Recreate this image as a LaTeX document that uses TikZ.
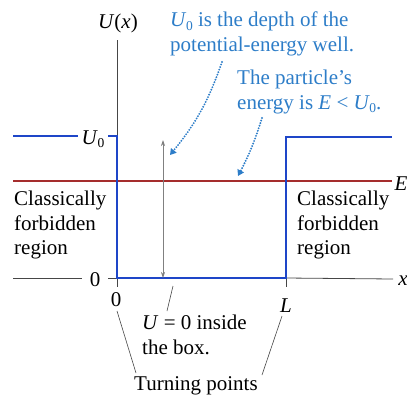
\documentclass[tikz,border=0pt]{standalone}
\usepackage{fontspec}
\setmainfont{Liberation Serif}
\usetikzlibrary{arrows.meta}
\definecolor{wellblue}{RGB}{30,70,200}
\definecolor{txtblue}{RGB}{45,125,200}
\definecolor{ered}{RGB}{165,45,45}
\definecolor{axgray}{RGB}{70,70,70}
\newcommand\Uzero{\textit{U}\kern-0.5pt\raisebox{-0.35ex}{\fontsize{13.5}{13.5}\selectfont 0}}
\begin{document}
\begin{tikzpicture}[x=1pt,y=-1pt,
  lbl/.style={font=\fontsize{21}{24.5}\selectfont, inner sep=0pt},
  blk/.style={lbl, align=left, anchor=north west},
  ann/.style={lbl, text=txtblue, align=left, anchor=north west},
  well/.style={wellblue, line width=1.6pt},
  axis/.style={axgray, line width=0.8pt},
  dotarrow/.style={txtblue, line width=2.1pt, line cap=round, dash pattern=on 0pt off 2.7pt, -{Triangle[length=6pt,width=7pt]}},
  pointer/.style={axgray, line width=0.6pt}]
\useasboundingbox (0,0) rectangle (407,397);
% coordinates
\coordinate (ul) at (13,136);
\coordinate (ulend) at (78,136);
\coordinate (uts) at (108,136);
\coordinate (tl) at (117,136);
\coordinate (bl) at (117,278);
\coordinate (br) at (286,278);
\coordinate (tr) at (286,137);
\coordinate (ur) at (392,137);
\coordinate (ytop) at (117,40);
\coordinate (ybot) at (117,287);
\coordinate (lt) at (286,287);
\coordinate (xl) at (13,278);
\coordinate (xlend) at (82,278);
\coordinate (xts) at (108,278);
\coordinate (xr) at (393,279);
\coordinate (el) at (13,181);
\coordinate (er) at (392,181);
\coordinate (at) at (163,140);
\coordinate (ab) at (163,278);
% labels
\node[lbl] (Ux) at (118,23) {\textit{U}(\textit{x})};
\node[lbl] (U0) at (93,139) {\Uzero};
\node[lbl] (z0) at (95,280) {0};
\node[lbl] (zx) at (116,300) {0};
\node[lbl] (Ll) at (286,306) {\textit{L}};
\node[lbl] (xx) at (403,281) {\textit{x}};
\node[lbl] (EE) at (401,184) {\textit{E}};
\node[blk] (cfl) at (14,191) {Classically\\forbidden\\region};
\node[blk] (cfr) at (297,191) {Classically\\forbidden\\region};
\node[blk] (u0in) at (142,315) {\textit{U} = 0 inside\\the box.};
\node[lbl] (tp) at (196,386) {Turning points};
\node[ann] (depth) at (170,12) {\Uzero\ is the depth of the\\potential-energy well.};
\node[ann] (pen) at (237,70) {The particle’s\\energy is \textit{E} < \Uzero.};
% lines
\draw[ered, line width=1.4pt] (el) -- (er);
\draw[axis] (ytop) -- (ybot);
\draw[axis] (br) -- (lt);
\draw[axis] (xl) -- (xlend);
\draw[axis] (xts) -- (bl);
\draw[axis] (br) -- (xr);
\draw[well] (ul) -- (ulend);
\draw[well] (uts) -- (tl) -- (bl) -- (br) -- (tr) -- (ur);
\draw[gray, line width=0.7pt, {Stealth[length=6pt,width=4pt]}-{Stealth[length=6pt,width=4pt]}] (at) -- (ab);
% pointers
\coordinate (p1a) at (173,286);
\coordinate (p1b) at (167,311);
\draw[pointer] (p1a) -- (p1b);
\coordinate (p2a) at (117,311);
\coordinate (p2b) at (136,373);
\draw[pointer] (p2a) -- (p2b);
\coordinate (p3a) at (282,316);
\coordinate (p3b) at (262,375);
\draw[pointer] (p3a) -- (p3b);
% dotted arrows
\coordinate (d1a) at (222,62);
\coordinate (d1b) at (170,155);
\draw[dotarrow] (d1a) to[bend left=10] (d1b);
\coordinate (d2a) at (262,118);
\coordinate (d2b) at (238,176);
\draw[dotarrow] (d2a) to[bend left=5] (d2b);
\end{tikzpicture}
\end{document}
